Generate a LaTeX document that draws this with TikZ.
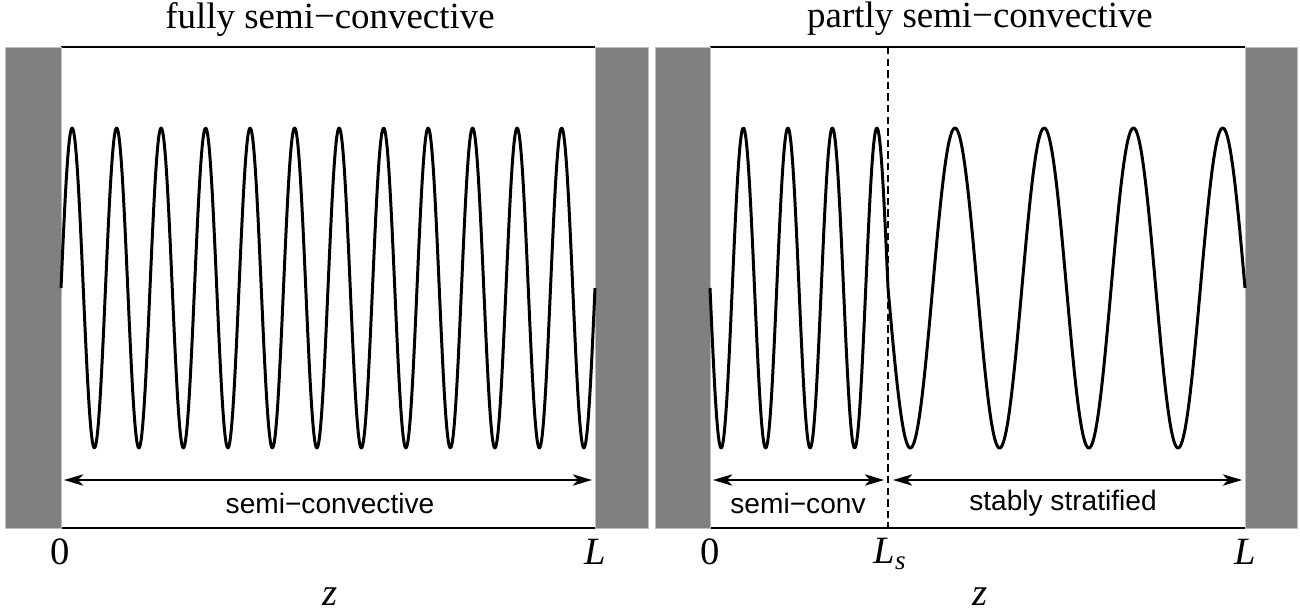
\documentclass[tikz,border=0pt]{standalone}
\usepackage{fontspec}
\setmainfont{Liberation Serif}
\setsansfont{Liberation Sans}
\usepackage{tikz}
\usetikzlibrary{arrows.meta}

\begin{document}
\begin{tikzpicture}[
    x=0.02cm, y=-0.02cm,
    wall/.style={fill=black!50, draw=black!25, line width=0.4pt},
    edge/.style={draw=black, line width=0.8pt},
    wave/.style={line width=1.7pt, line join=round},
    span/.style={{Stealth[length=11pt, width=6.5pt, inset=3pt]}-{Stealth[length=11pt, width=6.5pt, inset=3pt]}, line width=0.8pt},
    split/.style={line width=1.1pt, dash pattern=on 4.2pt off 2.4pt},
    heading/.style={font=\fontsize{21}{24}\selectfont},
    tick/.style={font=\fontsize{22}{26}\selectfont},
    region/.style={font=\sffamily\fontsize{16}{19}\selectfont}
]
\useasboundingbox (0,0) rectangle (1300,615);

% left panel: fully semi-convective
\draw[edge] (61,47) -- (595,47);
\draw[edge] (61,528) -- (595,528);
\draw[wall] (5,47) rectangle (61,528);
\draw[wall] (595,47) rectangle (648,528);
\draw[wave] plot[domain=61:595, samples=700] (\x, {288 - 160*sin(8.08989*(\x-61))});

\coordinate (spanA) at (64,480);
\coordinate (spanB) at (592,480);
\draw[span] (spanA) -- (spanB);
\node[region] (semiA) at (330,503) {semi−convective};

\node[heading] (titleA) at (330,19) {fully semi−convective};
\node[tick] (zeroA) at (60,552) {0};
\node[tick] (endA) at (595,552) {\textit{L}};
\node[tick] (zA) at (330,597) {\textit{z}};

% right panel: partly semi-convective
\draw[edge] (710,47) -- (1245,47);
\draw[edge] (710,528) -- (1245,528);
\draw[wall] (655,47) rectangle (710,528);
\draw[wall] (1245,47) rectangle (1297,528);
\draw[wave] plot[domain=710:888, samples=300] (\x, {288 + 160*sin(8.08989*(\x-710))})
    -- plot[domain=888:1245, samples=400] (\x, {288 + 160*sin(4.03361*(\x-888))});
\draw[split] (888,47) coordinate (splitTop) -- (888,528) coordinate (splitBot);

\coordinate (spanC) at (713,480);
\coordinate (spanD) at (884,480);
\coordinate (spanE) at (893,480);
\coordinate (spanF) at (1242,480);
\draw[span] (spanC) -- (spanD);
\draw[span] (spanE) -- (spanF);
\node[region] (semiB) at (798,503) {semi−conv};
\node[region] (stable) at (1063,503) {stably stratified};

\node[heading] (titleB) at (980,19) {partly semi−convective};
\node[tick] (zeroB) at (710,552) {0};
\node[tick] (splitL) at (890,554) {\textit{L}\textsubscript{\textit{s}}};
\node[tick] (endB) at (1245,552) {\textit{L}};
\node[tick] (zB) at (980,597) {\textit{z}};
\end{tikzpicture}
\end{document}
